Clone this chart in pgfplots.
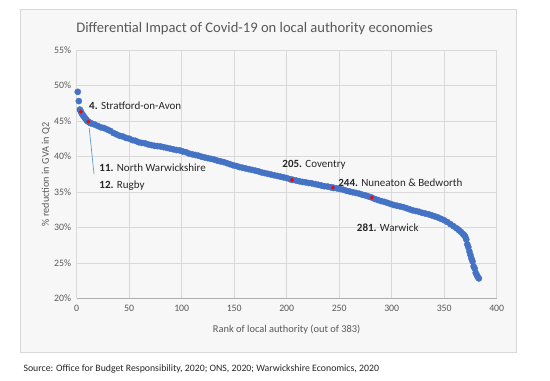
\documentclass[border=0pt]{standalone}
\usepackage{pgfplots}
\pgfplotsset{compat=1.18}
\usepackage{fontspec}
\setmainfont{Carlito}
\definecolor{xlblue}{HTML}{4472C4}
\definecolor{txtgray}{HTML}{595959}
\definecolor{gridgray}{HTML}{D9D9D9}
\definecolor{framegray}{HTML}{D9D9D9}
\definecolor{bggray}{HTML}{F7F7F7}
\definecolor{annot}{HTML}{262626}
\definecolor{linecol}{HTML}{5B9BD5}
\begin{document}
\begin{tikzpicture}[x=1bp,y=1bp]
\useasboundingbox (-76.7,-81.7) rectangle (473.3,298.3);
\fill[white] (-76.7,-81.7) rectangle (473.3,298.3);
\filldraw[fill=bggray, draw=framegray, line width=0.8bp] (-56.7,-53.7) rectangle (440,289);
\node[anchor=base, text=txtgray, font=\fontsize{14.6bp}{17bp}\selectfont] at (178,266) {Differential Impact of Covid-19 on local authority economies};
\node[anchor=base west, text=annot, font=\fontsize{9.8bp}{11bp}\selectfont] at (-56.7,-73) {Source: Office for Budget Responsibility, 2020; ONS, 2020; Warwickshire Economics, 2020};
\begin{axis}[
  at={(0,0)}, anchor=south west,
  scale only axis, width=420bp, height=248.3bp,
  xmin=0, xmax=400, ymin=20, ymax=55,
  xtick={0,50,...,400}, ytick={20,25,...,55},
  grid=major, major grid style={gridgray, line width=0.6bp},
  axis line style={draw=none},
  tick style={draw=none},
  /pgf/number format/assume math mode=true,
  ticklabel style={text=txtgray, font=\fontsize{9.8bp}{11bp}\selectfont},
  yticklabel={\pgfmathprintnumber{\tick}\%},
  xticklabel style={yshift=-3bp},
  yticklabel style={xshift=-2bp},
  clip=false,
]
\draw[color=gridgray!80!black, line width=0.6bp] (axis cs:0,20) -- (axis cs:400,20);
\addplot[only marks, mark=*, mark size=3.1bp, mark options={fill=xlblue, draw=xlblue}] coordinates {
(1,49.1)(2,47.8)(3,46.6)(4,46.3)(5,46.0)(6,45.8)(7,45.6)(8,45.4)(9,45.2)(10,45.0)
(11,44.9)(12,44.8)(13,44.7)(14,44.65)(17,44.5)(20,44.3)(23,44.1)(26,44.0)(29,43.8)
(32,43.6)(35,43.3)(38,43.1)(41,42.9)(44,42.8)(47,42.6)(50,42.5)(53,42.3)(56,42.2)
(59,42.0)(62,41.9)(65,41.85)(68,41.7)(71,41.6)(74,41.5)(77,41.45)(80,41.4)(83,41.3)
(86,41.2)(89,41.1)(92,41.0)(95,40.9)(98,40.85)(101,40.7)(104,40.6)(107,40.4)(110,40.3)
(113,40.2)(116,40.1)(119,39.95)(122,39.85)(125,39.75)(128,39.65)(131,39.55)(134,39.4)
(137,39.3)(140,39.2)(143,39.05)(146,38.9)(149,38.75)(152,38.65)(155,38.5)(158,38.4)
(161,38.3)(164,38.2)(167,38.1)(170,38.0)(173,37.9)(176,37.75)(179,37.65)(182,37.55)
(185,37.45)(188,37.35)(191,37.25)(194,37.15)(197,37.05)(200,36.95)(203,36.8)(205,36.7)
(206,36.7)(209,36.6)(212,36.5)(215,36.4)(218,36.35)(221,36.25)(224,36.2)(227,36.1)
(230,36.0)(233,35.9)(236,35.8)(239,35.75)(242,35.65)(244,35.6)(245,35.55)(248,35.5)
(251,35.4)(254,35.3)(257,35.15)(260,35.05)(263,34.95)(266,34.85)(269,34.75)(272,34.6)
(275,34.5)(278,34.35)(281,34.2)(284,34.0)(287,33.85)(290,33.7)(293,33.6)(296,33.45)
(299,33.3)(302,33.15)(305,33.05)(308,32.95)(311,32.85)(314,32.7)(317,32.55)(320,32.4)
(323,32.3)(326,32.2)(329,32.05)(332,31.95)(335,31.85)(338,31.7)(341,31.55)(344,31.4)
(347,31.2)(350,31.0)(353,30.75)(356,30.45)(359,30.15)(362,29.85)(364,29.6)(366,29.35)
(368,29.05)(369,28.9)(370,28.7)(371,28.3)(372,27.6)(373,27.2)(374,26.6)(375,26.1)
(376,25.6)(377,25.2)(378,24.5)(379,24.2)(380,23.6)(381,23.3)(382,23.0)(383,22.8)
};
\addplot[only marks, mark=*, mark size=1.7bp, mark options={fill=red, draw=red}] coordinates {
(4,46.3)(11,44.9)(205,36.7)(244,35.6)(281,34.2)
};
\draw[linecol, line width=0.7bp] (axis cs:11.9,44.0) -- (axis cs:16.5,37.5);
\begin{scope}[every node/.style={anchor=west, text=annot, inner sep=0pt, font=\fontsize{11bp}{13bp}\selectfont}]
\node at (axis cs:11.7,47.2) {\textbf{4.} Stratford-on-Avon};
\node at (axis cs:21.5,38.4) {\textbf{11.} North Warwickshire};
\node at (axis cs:21.5,35.9) {\textbf{12.} Rugby};
\node at (axis cs:195.8,38.8) {\textbf{205.} Coventry};
\node at (axis cs:249,36.3) {\textbf{244.} Nuneaton \& Bedworth};
\node at (axis cs:266.7,30.0) {\textbf{281.} Warwick};
\end{scope}
\end{axis}
\node[text=txtgray, font=\fontsize{10.4bp}{12bp}\selectfont] at (210,-31.5) {Rank of local authority (out of 383)};
\node[text=txtgray, rotate=90, font=\fontsize{10.2bp}{12bp}\selectfont] at (-30.7,124) {\% reduction in GVA in Q2};
\end{tikzpicture}
\end{document}
